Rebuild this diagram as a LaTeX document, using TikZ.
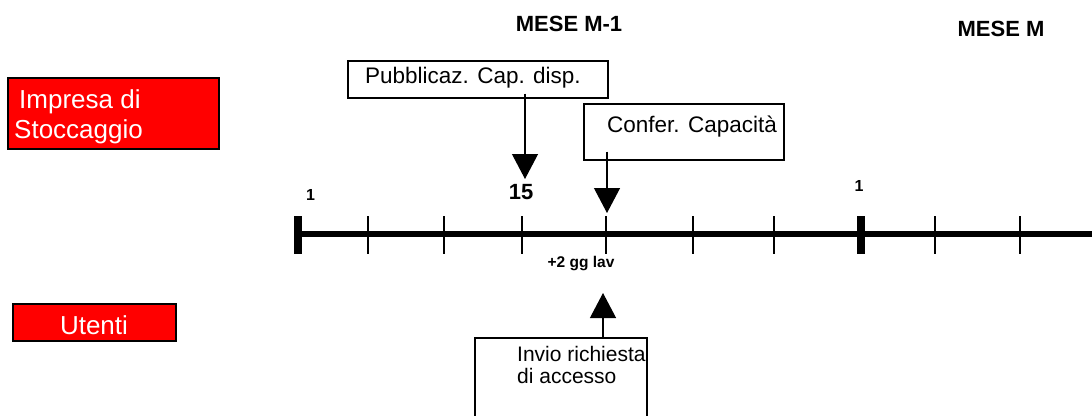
\documentclass[tikz,border=0pt]{standalone}
\usepackage{fontspec}
\setmainfont{Liberation Sans}
\usetikzlibrary{arrows.meta}
\definecolor{pured}{RGB}{255,0,0}
\begin{document}
\begin{tikzpicture}[x=1pt,y=-1pt,
  redbox/.style={draw=black,line width=1.6pt,fill=pured,inner sep=0pt},
  wbox/.style={draw=black,line width=1.4pt,fill=white,inner sep=0pt},
  whitetxt/.style={text=white,inner sep=0pt,font=\fontsize{26}{30}\selectfont},
  boxtxt/.style={inner sep=0pt,font=\fontsize{22.5}{26}\selectfont},
  invtxt/.style={inner sep=0pt,font=\fontsize{21}{24}\selectfont},
  head/.style={inner sep=0pt,font=\bfseries\fontsize{22}{26}\selectfont},
  daylbl/.style={inner sep=0pt,font=\bfseries\fontsize{16}{19}\selectfont},
  arr/.style={line width=1.2pt,-{Triangle[width=26pt,length=25pt]}},
  thintick/.style={line width=2.6pt},
  thicktick/.style={line width=7.5pt},
]
\useasboundingbox (0,0) rectangle (1092,415);

% left role boxes
\node[redbox,minimum width=211pt,minimum height=71pt] (imp) at (113.5,113.5) {};
\node[whitetxt,anchor=base west] (impa) at (19,108) {Impresa di};
\node[whitetxt,anchor=base west] (impb) at (14,138) {Stoccaggio};
\node[redbox,minimum width=163pt,minimum height=37pt] (ute) at (94.5,322.5) {};
\node[whitetxt,anchor=base] (utet) at (94,334) {Utenti};

% headings
\node[head,anchor=base] (m1) at (569,31) {MESE M-1};
\node[head,anchor=base] (m) at (1001,36) {MESE M};

% timeline
\coordinate (tls) at (295,234);
\coordinate (tle) at (1095,234);
\draw[line width=5.5pt] (tls) -- (tle);
\foreach \x/\n in {298/a,861/b} {
  \coordinate (tk\n) at (\x,234);
  \draw[thicktick] ([yshift=18pt]tk\n) -- ([yshift=-20pt]tk\n);
}
\foreach \x/\n in {368/c,444/d,522/e,606/f,693/g,774/h,935/i,1020/j} {
  \coordinate (tk\n) at (\x,234);
  \draw[thintick] ([yshift=18pt]tk\n) -- ([yshift=-20pt]tk\n);
}

% day labels
\node[daylbl,anchor=base] (d1) at (310.5,200) {1};
\node[daylbl,anchor=base] (d2) at (859,191) {1};
\node[head,anchor=base] (d15) at (521,199) {15};
\node[inner sep=0pt,font=\bfseries\fontsize{15.5}{18}\selectfont,anchor=base] (gg) at (581,267) {+2 gg lav};

% Pubblicaz box
\node[wbox,minimum width=260pt,minimum height=37pt] (pub) at (478,79.5) {};
\node[boxtxt,anchor=base west] (pubt) at (365,83) {Pubblicaz. Cap. disp.};
\coordinate (p15) at (525,179);
\draw[arr] ([yshift=5pt]pub.south -| p15) -- (p15);

% Confer box
\node[wbox,minimum width=200pt,minimum height=56pt] (conf) at (684,132) {};
\node[boxtxt,anchor=base west] (conft) at (607,132) {Confer. Capacità};
\coordinate (pcf) at (607,213);
\draw[arr] ([yshift=9pt]conf.south -| pcf) -- (pcf);

% Invio box
\node[wbox,minimum width=172pt,minimum height=100pt] (inv) at (561,388) {};
\node[invtxt,anchor=base west] (invt1) at (517,361) {Invio richiesta};
\node[invtxt,anchor=base west] (invt2) at (517,383) {di accesso};
\coordinate (pin) at (603,293);
\draw[arr] (inv.north -| pin) -- (pin);
\end{tikzpicture}
\end{document}
